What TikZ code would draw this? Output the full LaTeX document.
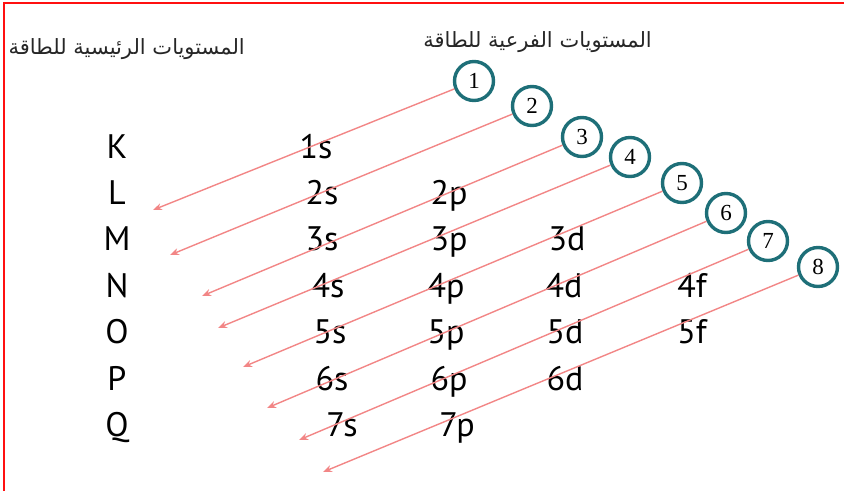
\documentclass[tikz,border=0pt]{standalone}
\usepackage{fontspec}
\setmainfont{PT Sans}
\newfontfamily\arabicfont[Script=Arabic]{DejaVu Sans}
\newfontfamily\ringfont{Liberation Serif}
\TeXXeTstate=1
\usetikzlibrary{arrows.meta, positioning}
\definecolor{aufteal}{HTML}{1E6F78}
\definecolor{aufpink}{HTML}{F28686}
\definecolor{aufred}{HTML}{FF1010}
\definecolor{aufgrey}{HTML}{262626}

\begin{document}
\begin{tikzpicture}[x=1pt, y=-1pt, every node/.style={inner sep=0pt},
  shelllab/.style={font=\fontsize{34}{34}\selectfont, anchor=base},
  sublab/.style={font=\fontsize{34}{34}\selectfont, anchor=base},
  ring/.style={circle, draw=aufteal, line width=3.4pt, fill=white,
    minimum size=39pt, font=\ringfont\fontsize{23}{23}\selectfont},
  fillarrow/.style={draw=aufpink, line width=1.4pt,
    -{Stealth[length=9pt, width=7pt]}},
  head/.style={font=\arabicfont\fontsize{21}{21}\selectfont, aufgrey}]
  \useasboundingbox (0,0) rectangle (844,491);
  % frame
  \draw[aufred, line width=2pt] (4,491) -- (4,3) -- (844,3);
  % headings
  \node[head, anchor=east] (hmain) at (245,49) {\beginR المستويات الرئيسية للطاقة\endR};
  \node[head, anchor=east] (hsub) at (652,42) {\beginR المستويات الفرعية للطاقة\endR};
  % main shells
  \foreach \lab/\y in {K/158, L/204, M/250, N/297, O/343, P/390, Q/436}
    \node[shelllab] (s\lab) at (117,\y) {\lab};
  % sub levels
  \foreach \nm/\x/\y in {1s/316/158,
      2s/322/204, 2p/449/204,
      3s/322/250, 3p/449/250, 3d/567/250,
      4s/328/297, 4p/446/297, 4d/564/297, 4f/692/297,
      5s/330/343, 5p/446/343, 5d/565/343, 5f/692/343,
      6s/332/390, 6p/449/390, 6d/565/390,
      7s/342/436, 7p/457/436}
    \node[sublab] (o\nm) at (\x,\y) {\nm};
  % filling order
  \foreach \n/\x/\y/\tx/\ty in {1/474/81/153/210, 2/532/106/170/255,
      3/582/137/202/296, 4/630/157/218/328, 5/682/183/243/367,
      6/726/213/267/408, 7/768/241/299/440, 8/818/267/323/472}
  {
    \node[ring] (c\n) at (\x,\y) {\n};
    \coordinate (t\n) at (\tx,\ty);
    \draw[fillarrow] (c\n) -- (t\n);
  }
\end{tikzpicture}
\end{document}
